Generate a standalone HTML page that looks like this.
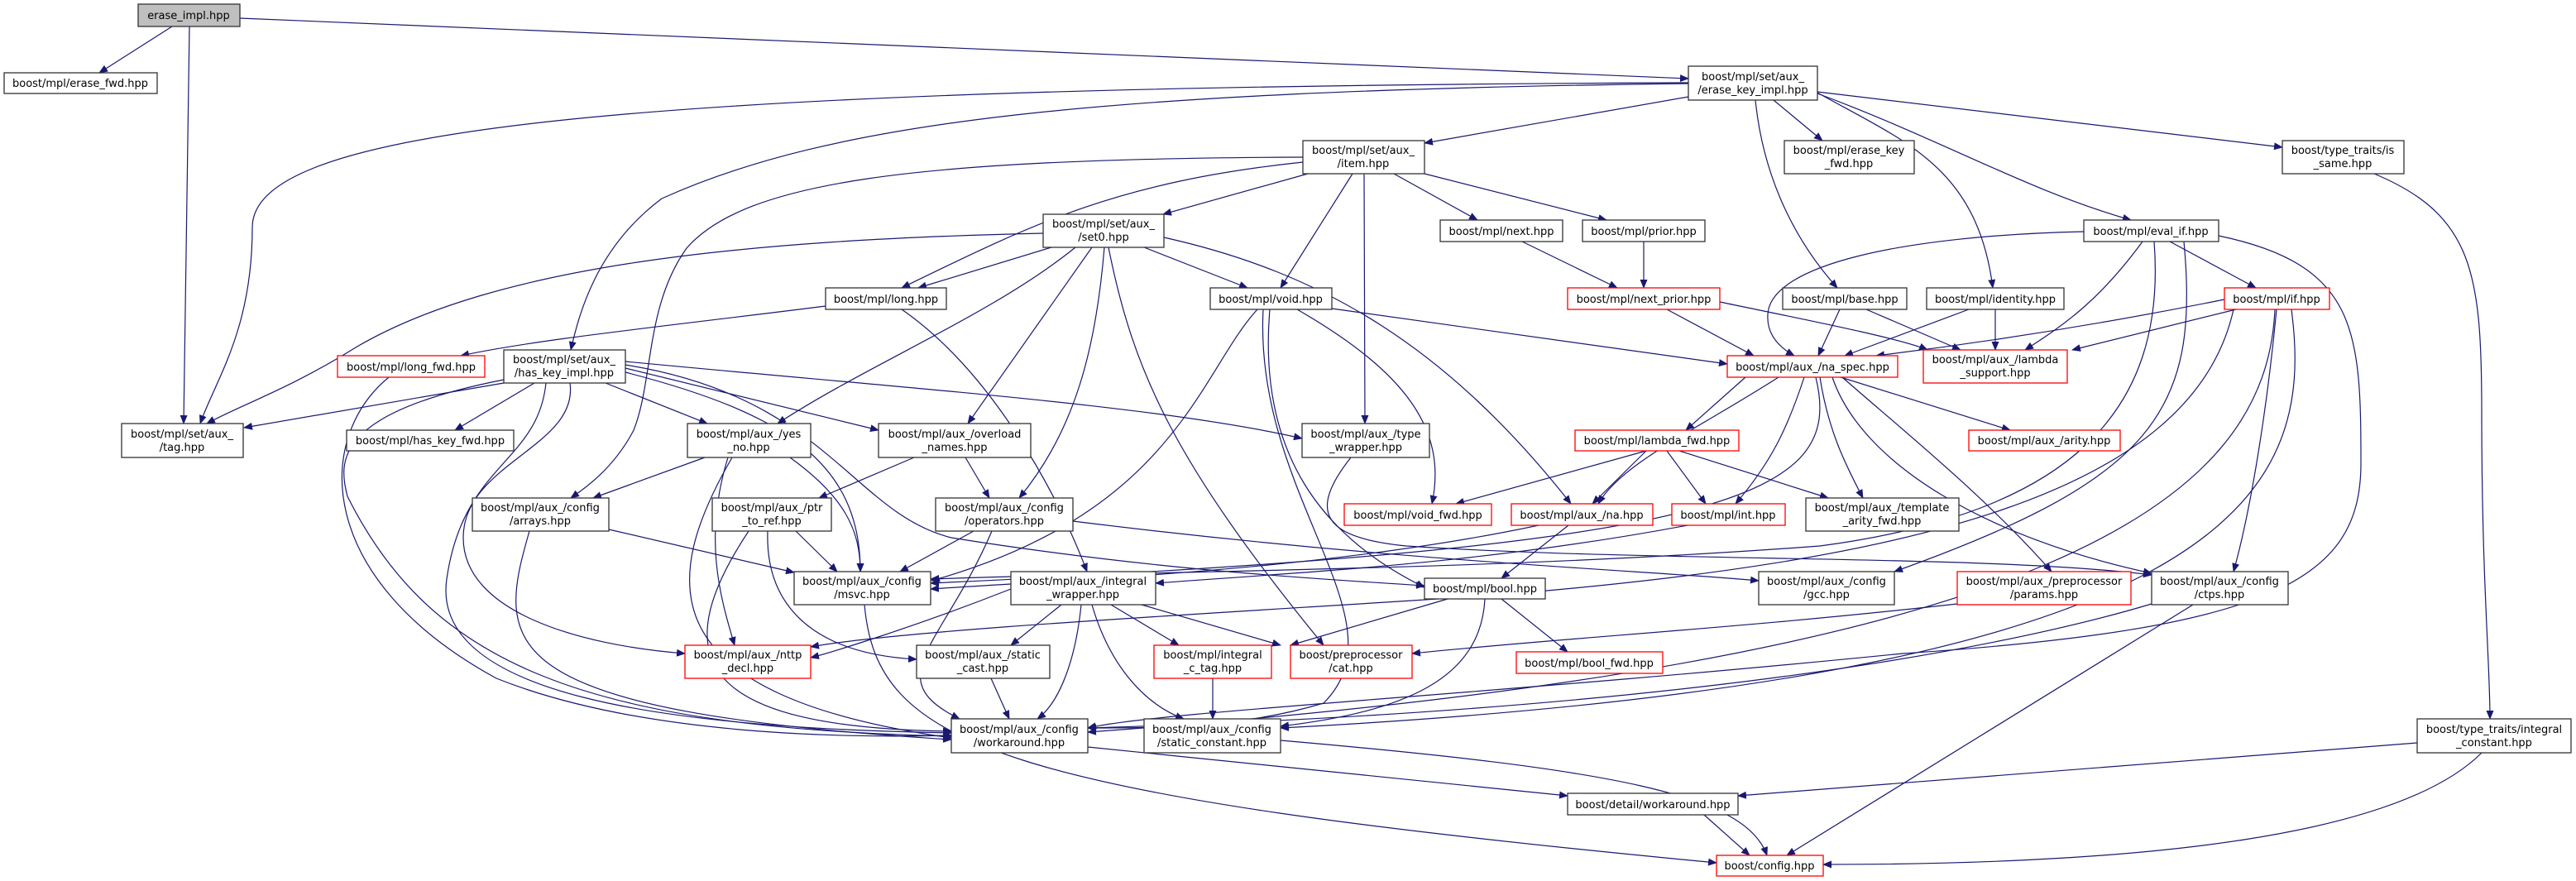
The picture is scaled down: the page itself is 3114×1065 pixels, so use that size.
<!DOCTYPE html>
<html><head><meta charset="utf-8"><style>
html,body{margin:0;padding:0;background:#fff;}
svg{display:block;}
text{font-family:"DejaVu Sans","Liberation Sans",sans-serif;font-size:13px;fill:#000;text-anchor:middle;}
.n{fill:#fff;stroke:#333;stroke-width:1.3;}
.r{fill:#fff;stroke:#f00;stroke-width:1.3;}
.e{fill:none;stroke:#191970;stroke-width:1.2;marker-end:url(#a);}
</style></head><body>
<svg width="3114" height="1065" viewBox="0 0 3114 1065" xmlns="http://www.w3.org/2000/svg">
<defs><marker id="a" markerUnits="userSpaceOnUse" markerWidth="11" markerHeight="9" refX="10" refY="4.5" orient="auto"><path d="M0,0 L11,4.5 L0,9 z" fill="#191970"/></marker></defs>
<g>
<path class="e" d="M208,32 L120,88"/>
<path class="e" d="M229,32 L222,512"/>
<path class="e" d="M290,22 L2041,95"/>
<path class="e" d="M2041,100 C700,105 305,160 305,275 C305,400 260,460 242,512"/>
<path class="e" d="M2041,101 C1300,110 1000,150 800,240 C720,300 700,380 690,423"/>
<path class="e" d="M2041,117 L1722,173"/>
<path class="e" d="M2144,121 L2203,170"/>
<path class="e" d="M2122,121 C2130,200 2160,280 2221,348"/>
<path class="e" d="M2197,112 C2300,170 2390,200 2409,348"/>
<path class="e" d="M2197,113 C2350,170 2450,230 2576,266"/>
<path class="e" d="M2197,111 L2759,178"/>
<path class="e" d="M1581,210 L1406,259"/>
<path class="e" d="M1575,196 C1350,220 1250,270 1090,348"/>
<path class="e" d="M1575,190 C1100,192 900,220 830,300 C780,370 790,460 766,520 C740,570 700,595 690,602"/>
<path class="e" d="M1635,210 L1548,348"/>
<path class="e" d="M1649,210 L1650,512"/>
<path class="e" d="M1685,210 L1786,266"/>
<path class="e" d="M1722,210 L1942,266"/>
<path class="e" d="M1271,299 L1110,348"/>
<path class="e" d="M1261,282 C900,290 600,320 430,420 C350,470 290,490 250,512"/>
<path class="e" d="M1300,299 C1200,380 1050,440 940,512"/>
<path class="e" d="M1320,299 L1170,512"/>
<path class="e" d="M1335,299 C1325,420 1300,520 1232,602"/>
<path class="e" d="M1340,299 C1370,450 1420,560 1600,780"/>
<path class="e" d="M1383,299 L1508,348"/>
<path class="e" d="M1407,287 C1600,330 1750,420 1899,609"/>
<path class="e" d="M998,370 C800,395 650,410 557,430"/>
<path class="e" d="M1090,374 C1200,450 1280,600 1314,691"/>
<path class="e" d="M470,456 C380,530 380,700 600,820 C800,900 1100,890 1150,889"/>
<path class="e" d="M609,463 L295,517"/>
<path class="e" d="M646,463 L550,520"/>
<path class="e" d="M732,463 L855,512"/>
<path class="e" d="M756,437 C1100,470 1400,490 1574,530"/>
<path class="e" d="M756,445 L1062,520"/>
<path class="e" d="M756,441 C1000,480 1030,620 1150,650 C1400,690 1600,700 1722,708"/>
<path class="e" d="M756,450 C950,500 1040,560 1040,691"/>
<path class="e" d="M689,463 C700,540 560,560 560,650 C560,740 700,780 828,790"/>
<path class="e" d="M660,463 C650,560 560,560 540,700 C520,840 800,880 1150,886"/>
<path class="e" d="M609,459 C400,500 410,560 420,600 C520,800 700,880 1150,890"/>
<path class="e" d="M852,553 L717,602"/>
<path class="e" d="M880,553 C850,650 870,720 888,780"/>
<path class="e" d="M955,553 C1020,600 1040,640 1040,691"/>
<path class="e" d="M885,553 C800,700 780,840 1150,892"/>
<path class="e" d="M736,640 L960,692"/>
<path class="e" d="M640,642 C600,780 590,860 1150,894"/>
<path class="e" d="M962,642 L1012,691"/>
<path class="e" d="M928,642 C925,730 980,790 1108,797"/>
<path class="e" d="M905,642 C800,800 850,880 1150,884"/>
<path class="e" d="M1105,553 L990,602"/>
<path class="e" d="M1167,553 L1196,602"/>
<path class="e" d="M1177,642 L1088,691"/>
<path class="e" d="M1199,642 C1140,780 1060,820 1160,869"/>
<path class="e" d="M1297,630 C1700,680 2000,690 2126,702"/>
<path class="e" d="M1045,731 C1060,900 1200,960 2075,1043"/>
<path class="e" d="M1283,731 L1222,780"/>
<path class="e" d="M1343,731 L1425,780"/>
<path class="e" d="M1380,731 L1548,780"/>
<path class="e" d="M1307,731 C1300,800 1280,850 1254,869"/>
<path class="e" d="M1320,731 C1340,800 1380,850 1431,869"/>
<path class="e" d="M1222,712 C1100,760 1000,790 980,795"/>
<path class="e" d="M1198,820 L1220,869"/>
<path class="e" d="M1466,820 L1466,869"/>
<path class="e" d="M1315,903 L1895,962"/>
<path class="e" d="M1548,895 C1950,930 2110,960 2136,1034"/>
<path class="e" d="M2060,985 L2115,1034"/>
<path class="e" d="M2922,898 L2101,962"/>
<path class="e" d="M3000,910 C2900,1010 2600,1045 2204,1045"/>
<path class="e" d="M2651,731 L2160,1034"/>
<path class="e" d="M2601,730 C2400,790 2000,860 1315,880"/>
<path class="e" d="M2366,730 C2100,760 1900,770 1707,790"/>
<path class="e" d="M1610,373 L2088,440"/>
<path class="e" d="M1520,374 C1450,450 1420,620 1126,702"/>
<path class="e" d="M1568,374 C1700,450 1750,520 1731,609"/>
<path class="e" d="M1535,374 C1520,550 1600,650 1722,710"/>
<path class="e" d="M1527,374 C1515,600 1700,750 1600,850 C1500,880 1400,880 1315,880"/>
<path class="e" d="M1840,292 L1955,348"/>
<path class="e" d="M1987,292 L1987,348"/>
<path class="e" d="M2015,374 L2120,430"/>
<path class="e" d="M2079,365 C2200,390 2300,410 2330,423"/>
<path class="e" d="M2519,280 C2300,285 2140,320 2137,380 C2135,410 2160,425 2169,430"/>
<path class="e" d="M2590,292 C2540,360 2500,390 2448,423"/>
<path class="e" d="M2623,292 L2727,348"/>
<path class="e" d="M2604,292 C2620,500 2500,620 2200,660 C1800,690 1400,690 1125,700"/>
<path class="e" d="M2640,292 C2660,500 2600,580 2290,691"/>
<path class="e" d="M2682,285 C2850,320 2854,400 2854,560 C2854,700 2750,760 2300,790 C1800,840 1400,860 1315,880"/>
<path class="e" d="M2224,374 L2198,430"/>
<path class="e" d="M2256,374 L2370,423"/>
<path class="e" d="M2380,374 L2230,430"/>
<path class="e" d="M2412,374 L2412,423"/>
<path class="e" d="M2689,362 C2500,400 2350,420 2268,430"/>
<path class="e" d="M2703,374 L2505,423"/>
<path class="e" d="M2752,374 C2740,500 2720,620 2700,691"/>
<path class="e" d="M2700,374 C2650,600 2300,680 1800,720 C1500,740 1100,760 980,782"/>
<path class="e" d="M2750,374 C2740,600 2500,800 1315,885"/>
<path class="e" d="M2770,374 C2800,600 2700,820 1548,880"/>
<path class="e" d="M2110,456 L2038,520"/>
<path class="e" d="M2225,456 L2430,520"/>
<path class="e" d="M2150,456 C2050,520 1960,560 1932,609"/>
<path class="e" d="M2181,456 C2160,520 2140,560 2098,609"/>
<path class="e" d="M2200,456 C2210,520 2230,560 2252,602"/>
<path class="e" d="M2227,456 C2300,520 2400,600 2480,691"/>
<path class="e" d="M2215,456 C2250,560 2400,650 2601,693"/>
<path class="e" d="M2195,456 C2230,600 2100,660 1125,705"/>
<path class="e" d="M1990,545 L1760,609"/>
<path class="e" d="M1990,545 L1925,609"/>
<path class="e" d="M2015,545 L2062,609"/>
<path class="e" d="M2030,545 L2210,602"/>
<path class="e" d="M1896,635 L1815,699"/>
<path class="e" d="M1860,635 C1600,690 1300,700 1125,712"/>
<path class="e" d="M2040,635 C1800,680 1600,690 1397,705"/>
<path class="e" d="M1815,724 L1895,788"/>
<path class="e" d="M1750,724 L1560,780"/>
<path class="e" d="M1795,724 C1790,820 1700,860 1548,878"/>
<path class="e" d="M1633,553 C1580,620 1600,650 1700,660 C2000,680 2400,670 2601,695"/>
<path class="e" d="M2870,210 C2990,260 3000,330 3000,500 C3000,700 3010,800 3010,869"/>
</g>
<g>
<rect x="167" y="5" width="123" height="27" fill="#bfbfbf" stroke="#333" stroke-width="1.3"/><text x="228" y="23">erase_impl.hpp</text>
<rect class="n" x="5" y="88" width="185" height="25"/><text x="97" y="105">boost/mpl/erase_fwd.hpp</text>
<rect class="n" x="147" y="512" width="147" height="41"/><text x="220" y="529">boost/mpl/set/aux_</text><text x="220" y="545">/tag.hpp</text>
<rect class="r" x="408" y="430" width="178" height="26"/><text x="497" y="448">boost/mpl/long_fwd.hpp</text>
<rect class="n" x="609" y="423" width="147" height="40"/><text x="682" y="439">boost/mpl/set/aux_</text><text x="682" y="455">/has_key_impl.hpp</text>
<rect class="n" x="419" y="520" width="202" height="25"/><text x="520" y="537">boost/mpl/has_key_fwd.hpp</text>
<rect class="n" x="831" y="512" width="149" height="41"/><text x="905" y="529">boost/mpl/aux_/yes</text><text x="905" y="545">_no.hpp</text>
<rect class="n" x="998" y="348" width="146" height="26"/><text x="1071" y="366">boost/mpl/long.hpp</text>
<rect class="n" x="2041" y="80" width="156" height="41"/><text x="2119" y="97">boost/mpl/set/aux_</text><text x="2119" y="113">/erase_key_impl.hpp</text>
<rect class="n" x="1575" y="170" width="147" height="40"/><text x="1648" y="186">boost/mpl/set/aux_</text><text x="1648" y="202">/item.hpp</text>
<rect class="n" x="1261" y="259" width="146" height="40"/><text x="1334" y="275">boost/mpl/set/aux_</text><text x="1334" y="291">/set0.hpp</text>
<rect class="n" x="1741" y="266" width="148" height="26"/><text x="1815" y="284">boost/mpl/next.hpp</text>
<rect class="n" x="1913" y="266" width="148" height="26"/><text x="1987" y="284">boost/mpl/prior.hpp</text>
<rect class="n" x="1463" y="348" width="147" height="26"/><text x="1536" y="366">boost/mpl/void.hpp</text>
<rect class="r" x="1895" y="348" width="184" height="26"/><text x="1987" y="366">boost/mpl/next_prior.hpp</text>
<rect class="n" x="1062" y="512" width="184" height="41"/><text x="1154" y="529">boost/mpl/aux_/overload</text><text x="1154" y="545">_names.hpp</text>
<rect class="n" x="1574" y="512" width="154" height="41"/><text x="1651" y="529">boost/mpl/aux_/type</text><text x="1651" y="545">_wrapper.hpp</text>
<rect class="r" x="1904" y="520" width="198" height="25"/><text x="2003" y="537">boost/mpl/lambda_fwd.hpp</text>
<rect class="n" x="2157" y="170" width="157" height="40"/><text x="2235" y="186">boost/mpl/erase_key</text><text x="2235" y="202">_fwd.hpp</text>
<rect class="n" x="2759" y="170" width="147" height="40"/><text x="2832" y="186">boost/type_traits/is</text><text x="2832" y="202">_same.hpp</text>
<rect class="n" x="2519" y="266" width="163" height="26"/><text x="2600" y="284">boost/mpl/eval_if.hpp</text>
<rect class="n" x="2155" y="348" width="150" height="26"/><text x="2230" y="366">boost/mpl/base.hpp</text>
<rect class="n" x="2329" y="348" width="166" height="26"/><text x="2412" y="366">boost/mpl/identity.hpp</text>
<rect class="r" x="2689" y="348" width="127" height="26"/><text x="2752" y="366">boost/mpl/if.hpp</text>
<rect class="r" x="2088" y="430" width="206" height="26"/><text x="2191" y="448">boost/mpl/aux_/na_spec.hpp</text>
<rect class="r" x="2325" y="423" width="174" height="40"/><text x="2412" y="439">boost/mpl/aux_/lambda</text><text x="2412" y="455">_support.hpp</text>
<rect class="r" x="2380" y="520" width="183" height="25"/><text x="2471" y="537">boost/mpl/aux_/arity.hpp</text>
<rect class="n" x="571" y="602" width="165" height="40"/><text x="653" y="618">boost/mpl/aux_/config</text><text x="653" y="634">/arrays.hpp</text>
<rect class="n" x="861" y="602" width="144" height="40"/><text x="933" y="618">boost/mpl/aux_/ptr</text><text x="933" y="634">_to_ref.hpp</text>
<rect class="n" x="960" y="691" width="165" height="40"/><text x="1042" y="707">boost/mpl/aux_/config</text><text x="1042" y="723">/msvc.hpp</text>
<rect class="r" x="828" y="780" width="152" height="40"/><text x="904" y="796">boost/mpl/aux_/nttp</text><text x="904" y="812">_decl.hpp</text>
<rect class="n" x="1131" y="602" width="166" height="40"/><text x="1214" y="618">boost/mpl/aux_/config</text><text x="1214" y="634">/operators.hpp</text>
<rect class="n" x="1222" y="691" width="175" height="40"/><text x="1309" y="707">boost/mpl/aux_/integral</text><text x="1309" y="723">_wrapper.hpp</text>
<rect class="n" x="1108" y="780" width="161" height="40"/><text x="1188" y="796">boost/mpl/aux_/static</text><text x="1188" y="812">_cast.hpp</text>
<rect class="r" x="1395" y="780" width="142" height="40"/><text x="1466" y="796">boost/mpl/integral</text><text x="1466" y="812">_c_tag.hpp</text>
<rect class="r" x="1560" y="780" width="147" height="40"/><text x="1633" y="796">boost/preprocessor</text><text x="1633" y="812">/cat.hpp</text>
<rect class="n" x="1150" y="869" width="165" height="41"/><text x="1232" y="886">boost/mpl/aux_/config</text><text x="1232" y="902">/workaround.hpp</text>
<rect class="n" x="1383" y="869" width="165" height="41"/><text x="1465" y="886">boost/mpl/aux_/config</text><text x="1465" y="902">/static_constant.hpp</text>
<rect class="r" x="1625" y="609" width="178" height="26"/><text x="1714" y="627">boost/mpl/void_fwd.hpp</text>
<rect class="r" x="1827" y="609" width="171" height="26"/><text x="1912" y="627">boost/mpl/aux_/na.hpp</text>
<rect class="r" x="2021" y="609" width="137" height="26"/><text x="2089" y="627">boost/mpl/int.hpp</text>
<rect class="n" x="1722" y="699" width="146" height="25"/><text x="1795" y="716">boost/mpl/bool.hpp</text>
<rect class="r" x="1833" y="788" width="177" height="26"/><text x="1921" y="806">boost/mpl/bool_fwd.hpp</text>
<rect class="n" x="1895" y="959" width="206" height="26"/><text x="1998" y="977">boost/detail/workaround.hpp</text>
<rect class="n" x="2183" y="602" width="185" height="40"/><text x="2275" y="618">boost/mpl/aux_/template</text><text x="2275" y="634">_arity_fwd.hpp</text>
<rect class="n" x="2126" y="691" width="164" height="40"/><text x="2208" y="707">boost/mpl/aux_/config</text><text x="2208" y="723">/gcc.hpp</text>
<rect class="r" x="2366" y="691" width="210" height="40"/><text x="2471" y="707">boost/mpl/aux_/preprocessor</text><text x="2471" y="723">/params.hpp</text>
<rect class="n" x="2601" y="691" width="165" height="40"/><text x="2683" y="707">boost/mpl/aux_/config</text><text x="2683" y="723">/ctps.hpp</text>
<rect class="n" x="2922" y="869" width="186" height="41"/><text x="3015" y="886">boost/type_traits/integral</text><text x="3015" y="902">_constant.hpp</text>
<rect class="r" x="2075" y="1034" width="129" height="25"/><text x="2139" y="1051">boost/config.hpp</text>
</g>
</svg>
</body></html>
